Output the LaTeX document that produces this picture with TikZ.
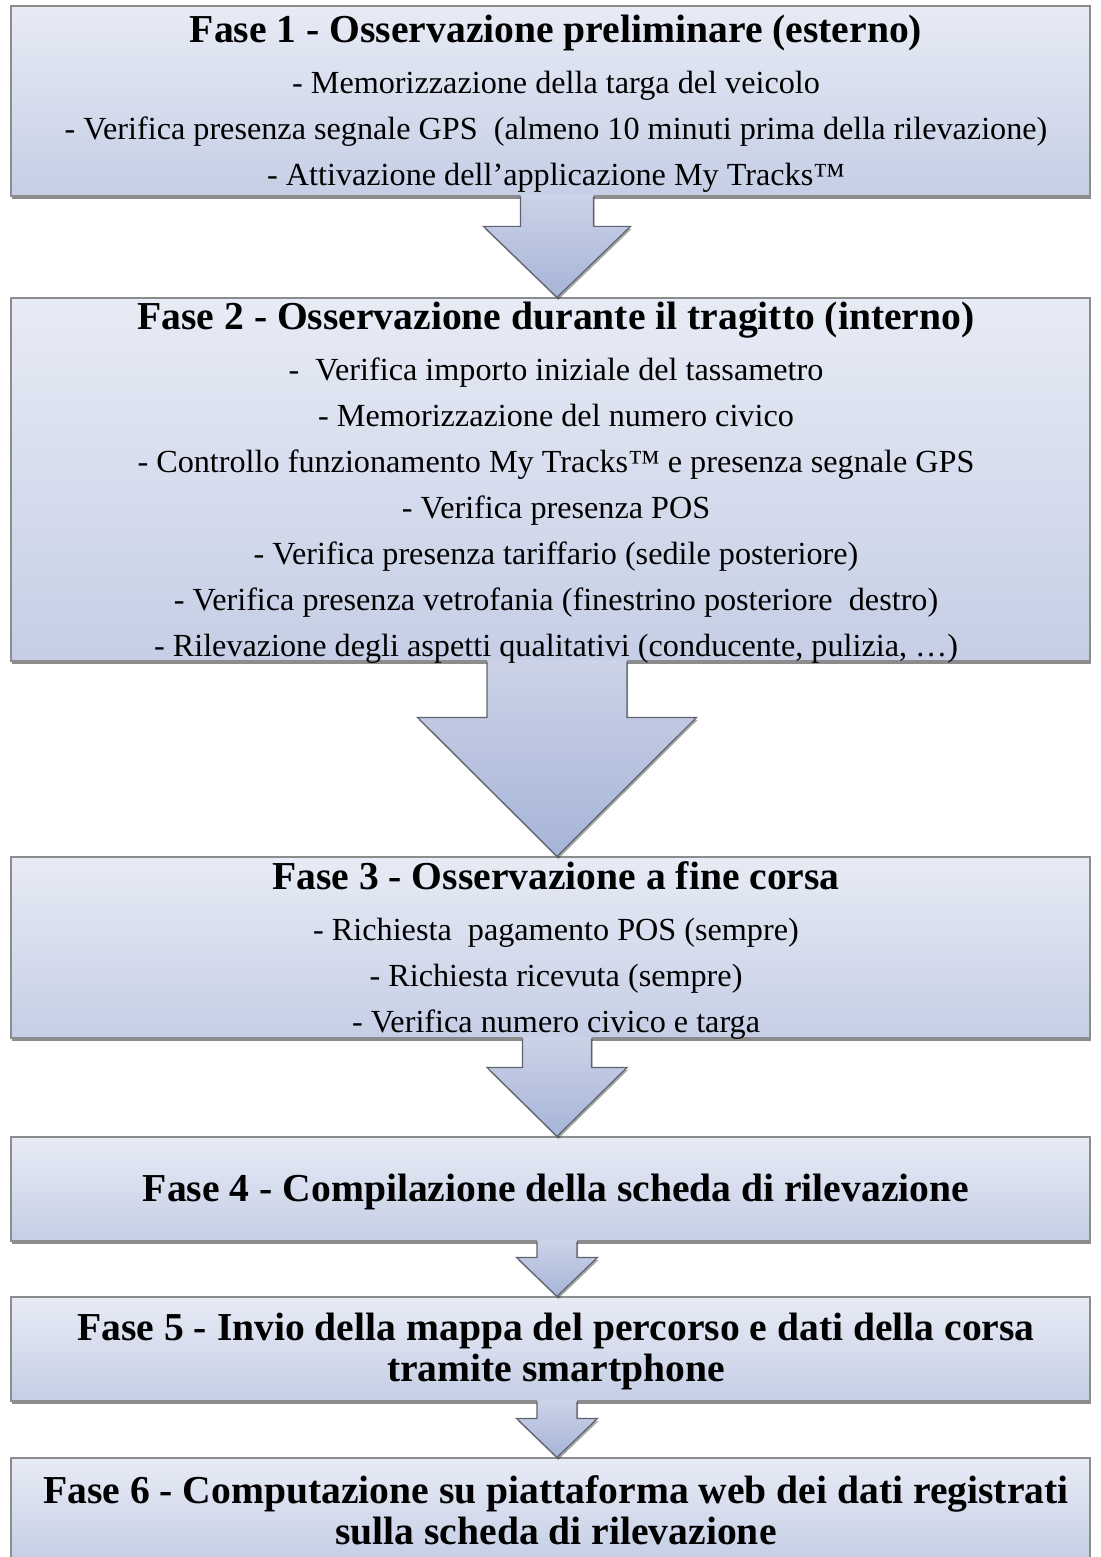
\documentclass[tikz,border=0pt]{standalone}
\usepackage{fontspec}
\setmainfont{Liberation Serif}
\usetikzlibrary{calc,shadows}
\definecolor{boxtop}{RGB}{231,235,245}
\definecolor{boxbottom}{RGB}{197,206,229}
\definecolor{arrowtop}{RGB}{204,211,231}
\definecolor{arrowbottom}{RGB}{166,180,216}
\definecolor{boxline}{RGB}{140,140,140}
\definecolor{arrowline}{RGB}{95,99,110}
\newcommand{\titlefont}{\fontsize{19.8}{20.5}\selectfont\bfseries}
\newcommand{\faseArrow}[5]{%
    \shade[top color=arrowtop, bottom color=arrowbottom, drop shadow={shadow xshift=0.6pt, shadow yshift=-1.2pt, opacity=0.35, fill=black}]
        ($(#1.south)+(6.5-#3,-2)$) -- ($(#2.north)+(6.5-#3,-#5)$) -- ($(#2.north)+(6.5-#4,-#5)$) -- ($(#2.north)+(6.5,0)$)
        -- ($(#2.north)+(6.5+#4,-#5)$) -- ($(#2.north)+(6.5+#3,-#5)$) -- ($(#1.south)+(6.5+#3,-2)$) -- cycle;
    \draw[arrowline, line width=0.6pt] ($(#1.south)+(6.5-#3,0)$) -- ($(#2.north)+(6.5-#3,-#5)$) -- ($(#2.north)+(6.5-#4,-#5)$) -- ($(#2.north)+(6.5,0)$)
        -- ($(#2.north)+(6.5+#4,-#5)$) -- ($(#2.north)+(6.5+#3,-#5)$) -- ($(#1.south)+(6.5+#3,0)$);
}
\begin{document}
\begin{tikzpicture}[x=0.5pt,y=-0.5pt,
    fase/.style={draw=boxline, line width=0.6pt, top color=boxtop, bottom color=boxbottom,
        minimum width=539.5pt, inner sep=0pt,
        drop shadow={shadow xshift=0.6pt, shadow yshift=-1.4pt, opacity=0.45, fill=black}},
    fasetext/.style={inner sep=0pt, align=center, font=\fontsize{16.1}{23}\selectfont},
    fasetitle/.style={inner sep=0pt, align=center, font=\titlefont}]
    \useasboundingbox (0,0) rectangle (1100,1557);
    \clip (0,0) rectangle (1100,1557);
    \node[fase, minimum height=95pt] (fase1) at (550.5,101) {};
    \node[fase, minimum height=181.5pt] (fase2) at (550.5,479.5) {};
    \node[fase, minimum height=90.5pt] (fase3) at (550.5,947.5) {};
    \node[fase, minimum height=52pt] (fase4) at (550.5,1189) {};
    \node[fase, minimum height=52pt] (fase5) at (550.5,1349) {};
    \node[fase, minimum height=52pt] (fase6) at (550.5,1510) {};
    \faseArrow{fase1}{fase2}{36.5}{73.5}{71}
    \faseArrow{fase2}{fase3}{70}{139.5}{139}
    \faseArrow{fase3}{fase4}{34.5}{70}{69}
    \faseArrow{fase4}{fase5}{20}{40.5}{39}
    \faseArrow{fase5}{fase6}{20}{40.5}{39}
    \node[fasetext] (testo1) at (556,104) {{\titlefont Fase 1 - Osservazione preliminare (esterno)}\\[2.5pt]
        - Memorizzazione della targa del veicolo\\
        - Verifica presenza segnale GPS\ \ (almeno 10 minuti prima della rilevazione)\\
        - Attivazione dell'applicazione My Tracks\texttrademark};
    \node[fasetext] (testo2) at (556,482.5) {{\titlefont Fase 2 - Osservazione durante il tragitto (interno)}\\[2.5pt]
        -\ \ Verifica importo iniziale del tassametro\\
        - Memorizzazione del numero civico\\
        - Controllo funzionamento My Tracks\texttrademark\ e presenza segnale GPS\\
        - Verifica presenza POS\\
        - Verifica presenza tariffario (sedile posteriore)\\
        - Verifica presenza vetrofania (finestrino posteriore\ \ destro)\\
        - Rilevazione degli aspetti qualitativi (conducente, pulizia, \dots)};
    \node[fasetext] (testo3) at (556,950.5) {{\titlefont Fase 3 - Osservazione a fine corsa}\\[2.5pt]
        - Richiesta\ \ pagamento POS (sempre)\\
        - Richiesta ricevuta (sempre)\\
        - Verifica numero civico e targa};
    \node[fasetitle] (testo4) at (556,1192) {Fase 4 - Compilazione della scheda di rilevazione};
    \node[fasetitle] (testo5) at (556,1351) {Fase 5 - Invio della mappa del percorso e dati della corsa\\tramite smartphone};
    \node[fasetitle] (testo6) at (556,1510.5) {Fase 6 - Computazione su piattaforma web dei dati registrati\\sulla scheda di rilevazione};
\end{tikzpicture}
\end{document}
